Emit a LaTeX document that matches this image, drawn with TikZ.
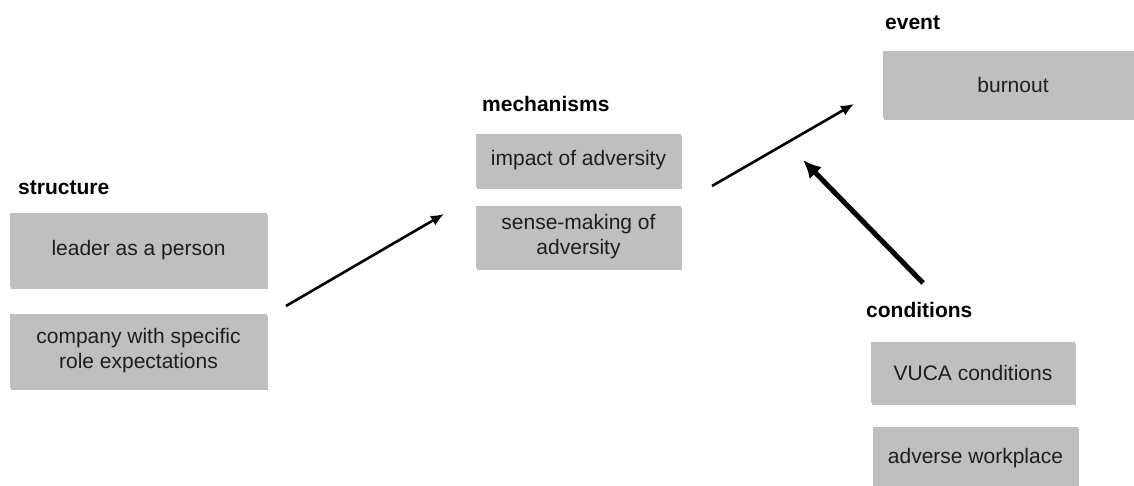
\documentclass[tikz,border=0pt]{standalone}
\usepackage{fontspec}
\setmainfont{Liberation Sans}
\usetikzlibrary{arrows.meta,shadows}
\definecolor{boxgrey}{HTML}{BFBFBF}
\definecolor{boxtext}{HTML}{1E1E1E}
\begin{document}
\begin{tikzpicture}[x=1pt,y=-1pt,
  box/.style={fill=boxgrey, draw=none, text=boxtext, align=center,
    font=\fontsize{21}{25}\selectfont, inner sep=0pt,
    drop shadow={shadow xshift=0.5pt, shadow yshift=-2pt, opacity=0.25, fill=black}},
  heading/.style={anchor=base west, inner sep=0pt, text=black,
    font=\fontsize{21}{25}\selectfont\bfseries},
  link/.style={line width=2.6pt, -{Latex[length=13pt,width=11pt]}, shorten <=0pt},
  boldlink/.style={line width=5pt, -{Latex[length=18pt,width=17pt]}}
]
\clip (0,0) rectangle (1134,486);
\fill[white] (0,0) rectangle (1134,486);

% structure
\node[heading] (hstruct) at (18,195) {structure};
\node[box, minimum width=257pt, minimum height=74pt] (leader) at (138.5,250) {leader as a person};
\node[box, minimum width=257pt, minimum height=74pt] (company) at (138.5,351) {company with specific\\role expectations};

% mechanisms
\node[heading] (hmech) at (482,112) {mechanisms};
\node[box, minimum width=205pt, minimum height=53pt] (impact) at (578.5,160.5) {impact of adversity};
\node[box, minimum width=205pt, minimum height=62pt] (sense) at (578.5,237) {sense-making of\\adversity};

% event
\node[heading] (hevent) at (885,30) {event};
\node[box, minimum width=260pt, minimum height=67pt] (burnout) at (1013,84.5) {burnout};

% conditions
\node[heading] (hcond) at (866,317) {conditions};
\node[box, minimum width=204pt, minimum height=61pt] (vuca) at (973,372.5) {VUCA conditions};
\node[box, minimum width=205pt, minimum height=62pt] (adverse) at (975.5,458) {adverse workplace};

% connector end points
\coordinate (a1s) at (286,306);
\coordinate (a1e) at (444,214);
\coordinate (a2s) at (712,186);
\coordinate (a2e) at (854,104);
\coordinate (a3s) at (923,283);
\coordinate (a3e) at (803,160);

\draw[link] (a1s) -- (a1e);
\draw[link] (a2s) -- (a2e);
\draw[boldlink] (a3s) -- (a3e);
\end{tikzpicture}
\end{document}
